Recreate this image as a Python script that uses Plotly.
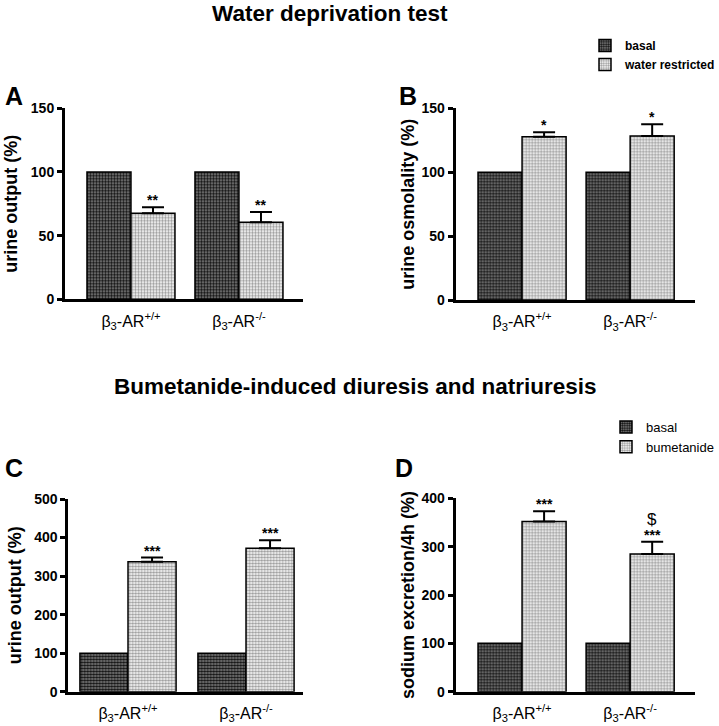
import plotly.graph_objects as go

W, H = 719, 726

# ---------------- data ----------------
groups = ["β<sub>3</sub>-AR<sup>+/+</sup>", "β<sub>3</sub>-AR<sup>-/-</sup>"]

a_basal = [100, 100]
a_water = [67.5, 60.5]
a_water_sem = [4.7, 8.1]
a_sig = ["**", "**"]

b_basal = [100, 100]
b_water = [127.8, 128.3]
b_water_sem = [3.4, 9.2]
b_sig = ["*", "*"]

c_basal = [100, 100]
c_bumet = [337, 372]
c_bumet_sem = [11, 21]
c_sig = ["***", "***"]

d_basal = [100, 100]
d_bumet = [352, 285]
d_bumet_sem = [21, 25]
d_sig = ["***", "***"]
d_sig2 = ["", "$"]

y_titles = ["urine output (%)", "urine osmolality (%)", "urine output (%)", "sodium excretion/4h (%)"]
panel_letters = ["A", "B", "C", "D"]
y_ticks = [[0, 50, 100, 150], [0, 50, 100, 150], [0, 100, 200, 300, 400, 500], [0, 100, 200, 300, 400]]
titles = ["Water deprivation test", "Bumetanide-induced diuresis and natriuresis"]

# ---------------- styling / layout ----------------
FONT = "Liberation Sans, Arial, Helvetica, sans-serif"
BARGAP = 0.185

basal_marker = dict(color="#6e6e6e",
                    pattern=dict(shape=".", size=3, solidity=0.55, fgcolor="#111111", bgcolor="#858585", fillmode="replace"),
                    line=dict(color="black", width=1.5))
treat_marker = dict(color="#dddddd",
                    pattern=dict(shape=".", size=3, solidity=0.5, fgcolor="#9a9a9a", bgcolor="#ffffff", fillmode="replace"),
                    line=dict(color="black", width=1.5))

# pixel geometry of the four panels: (x0, x1, ytop, ybottom), x range
panels = [
    dict(px=(65, 303, 108.3, 299.3), xr=(-0.611, 1.593), yr=(0, 150), letter_xy=(14, 96.5), title_standoff=9),
    dict(px=(455.7, 695, 108.3, 300), xr=(-0.614, 1.60), yr=(0, 150), letter_xy=(408, 95.5), title_standoff=3),
    dict(px=(68.3, 303, 499, 691.7), xr=(-0.506, 1.483), yr=(0, 500), letter_xy=(14, 468), title_standoff=8),
    dict(px=(455.7, 695, 498.3, 691.7), xr=(-0.614, 1.60), yr=(0, 400), letter_xy=(404, 468), title_standoff=3),
]

series = [
    (a_basal, a_water, a_water_sem, "water restricted", "legend"),
    (b_basal, b_water, b_water_sem, "water restricted", None),
    (c_basal, c_bumet, c_bumet_sem, "bumetanide", "legend2"),
    (d_basal, d_bumet, d_bumet_sem, "bumetanide", None),
]
sigs = [a_sig, b_sig, c_sig, d_sig]

fig = go.Figure()
layout_axes = {}
annotations = []

for i, (p, (basal, treat, sem, tname, leg)) in enumerate(zip(panels, series)):
    n = "" if i == 0 else str(i + 1)
    xa, ya = "x" + n, "y" + n
    x0, x1, yt, yb = p["px"]
    show = leg is not None
    fig.add_trace(go.Bar(x=groups, y=basal, name="basal", marker=basal_marker,
                         xaxis=xa, yaxis=ya, showlegend=show, legend=leg or "legend"))
    fig.add_trace(go.Bar(x=groups, y=treat, name=tname, marker=treat_marker,
                         error_y=dict(type="data", array=sem, arrayminus=[0] * len(sem), symmetric=False,
                                      color="black", thickness=2, width=11),
                         xaxis=xa, yaxis=ya, showlegend=show, legend=leg or "legend"))

    layout_axes["xaxis" + n] = dict(
        domain=[x0 / W, x1 / W], range=list(p["xr"]), anchor=ya, type="category",
        showline=True, linecolor="black", linewidth=3, ticks="", showgrid=False, zeroline=False,
        tickfont=dict(family=FONT, size=16, color="black"), ticklabelstandoff=5, fixedrange=True,
        automargin=False)
    layout_axes["yaxis" + n] = dict(
        domain=[1 - yb / H, 1 - yt / H], range=list(p["yr"]), anchor=xa,
        tickvals=y_ticks[i], showline=True, linecolor="black", linewidth=3,
        ticks="outside", ticklen=5, tickwidth=2.5, tickcolor="black",
        showgrid=False, zeroline=False, automargin=False,
        tickfont=dict(family=FONT, size=14, color="black", weight="bold"),
        title=dict(text=y_titles[i], font=dict(family=FONT, size=18, color="black", weight="bold"),
                   standoff=p["title_standoff"]))

    # significance marks above the treatment bar error caps
    ppu = (x1 - x0) / (p["xr"][1] - p["xr"][0])
    shift = (1 - BARGAP) / 4 * ppu
    for j, g in enumerate(groups):
        annotations.append(dict(x=g, y=treat[j] + sem[j], xref=xa, yref=ya, text=sigs[i][j],
                                showarrow=False, xshift=shift, yanchor="bottom", yshift=-3,
                                font=dict(family=FONT, size=14, color="black", weight="bold")))
        if i == 3 and d_sig2[j]:
            annotations.append(dict(x=g, y=treat[j] + sem[j], xref=xa, yref=ya, text=d_sig2[j],
                                    showarrow=False, xshift=shift, yanchor="bottom", yshift=11,
                                    font=dict(family=FONT, size=17, color="black")))

    lx, ly = p["letter_xy"]
    annotations.append(dict(x=lx / W, y=1 - ly / H, xref="paper", yref="paper", text=panel_letters[i],
                            showarrow=False, xanchor="center", yanchor="middle",
                            font=dict(family=FONT, size=25, color="black", weight="bold")))

annotations.append(dict(x=330 / W, y=1 - 13 / H, xref="paper", yref="paper", text=titles[0],
                        showarrow=False, xanchor="center", yanchor="middle",
                        font=dict(family=FONT, size=22.5, color="black", weight="bold")))
annotations.append(dict(x=355 / W, y=1 - 386 / H, xref="paper", yref="paper", text=titles[1],
                        showarrow=False, xanchor="center", yanchor="middle",
                        font=dict(family=FONT, size=22.5, color="black", weight="bold")))

fig.update_layout(
    width=W, height=H, margin=dict(l=0, r=0, t=0, b=0, autoexpand=False),
    paper_bgcolor="white", plot_bgcolor="white",
    barmode="group", bargap=BARGAP, bargroupgap=0,
    annotations=annotations,
    legend=dict(x=585 / W, y=1 - 31 / H, xanchor="left", yanchor="top", bgcolor="rgba(0,0,0,0)",
                font=dict(family=FONT, size=12, color="black", weight="bold"), tracegroupgap=0,
                itemwidth=30),
    legend2=dict(x=606 / W, y=1 - 412 / H, xanchor="left", yanchor="top", bgcolor="rgba(0,0,0,0)",
                 font=dict(family=FONT, size=13, color="black"), tracegroupgap=0, itemwidth=30),
    **layout_axes,
)

fig.write_html("out.html", config={"displayModeBar": False},
               post_script="document.body.style.margin='0';document.body.style.overflow='hidden';")
